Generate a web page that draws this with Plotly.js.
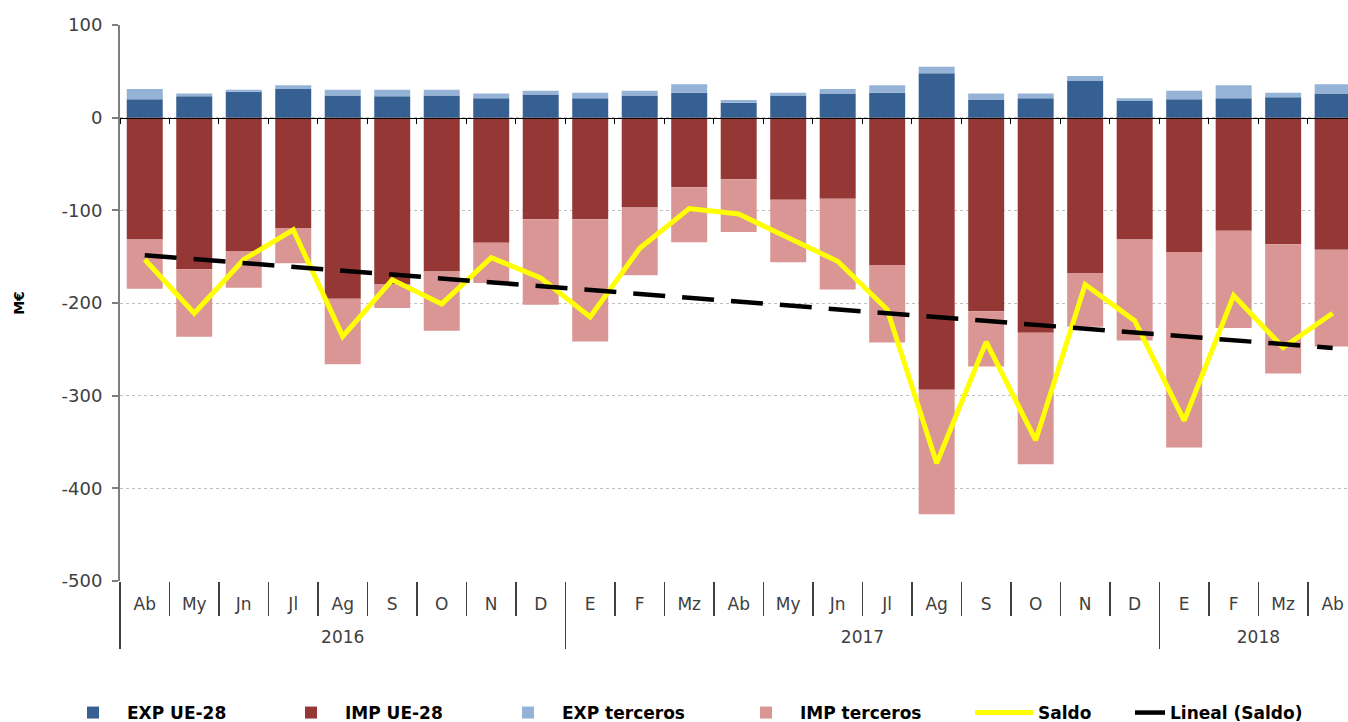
<!DOCTYPE html>
<html>
<head>
<meta charset="utf-8">
<script src="https://cdn.plot.ly/plotly-3.0.1.min.js"></script>
<style>html,body{margin:0;padding:0;background:#fff;}#chart{width:1348px;height:722px;}</style>
</head>
<body>
<div id="chart"></div>
<script>
// ---- Data (M€) ----
const years = ["2016","2016","2016","2016","2016","2016","2016","2016","2016",
               "2017","2017","2017","2017","2017","2017","2017","2017","2017","2017","2017","2017",
               "2018","2018","2018","2018"];
const months = ["Ab","My","Jn","Jl","Ag","S","O","N","D",
                "E","F","Mz","Ab","My","Jn","Jl","Ag","S","O","N","D",
                "E","F","Mz","Ab"];
const expUE = [20, 23, 28, 31, 24, 23, 24, 21, 25, 21, 24, 27, 16, 24, 26, 27, 48, 19, 21, 40, 18, 20, 21, 22, 26];
const impUE = [-131.5, -163.5, -144, -119, -195.5, -180, -166, -135, -109.5, -109.5, -97, -75, -66.5, -88.5, -87.5, -159, -293.5, -209, -232, -167.5, -131.5, -145, -122, -136.5, -142.5];
const expTerceros = [11, 3, 2, 4, 6, 7, 6, 5, 4, 6, 5, 9, 3, 3, 5, 8, 7, 7, 5, 5, 3, 9, 14, 5, 10];
const impTerceros = [-53, -73, -39.5, -38, -70.5, -25.5, -64, -43.5, -92.5, -132, -73, -59.5, -57, -67.5, -98, -83.5, -134.5, -59.5, -142, -58, -109, -211, -105, -139.5, -104.5];
const saldo = [-153, -211, -153, -121, -236, -175, -201, -151, -173, -215, -141, -98, -104, -129, -155, -207, -373, -242, -348, -180, -219, -327, -192, -248, -211];
const yTickVals = [100, 0, -100, -200, -300, -400, -500];
const yTickText = ["100", "0", "-100", "-200", "-300", "-400", "-500"];

// category positions (one slot per month)
const idx = months.map((_, i) => i);

// year groups: label at the centre of each group, dividers at group boundaries
const yearLabels = [], yearCenters = [], yearBounds = [-0.5];
years.forEach((y, i) => {
  if (i === 0 || years[i - 1] !== y) { yearLabels.push(y); yearCenters.push([i]); }
  else yearCenters[yearCenters.length - 1].push(i);
  if (i === years.length - 1 || years[i + 1] !== y) yearBounds.push(i + 0.5);
});
const yearMid = yearCenters.map(g => (g[0] + g[g.length - 1]) / 2);

// Linear trend (least squares) of Saldo, like Excel's "Lineal" trendline
const n = saldo.length;
const mx = idx.reduce((a, b) => a + b, 0) / n;
const my = saldo.reduce((a, b) => a + b, 0) / n;
let sxy = 0, sxx = 0;
for (let i = 0; i < n; i++) { sxy += (idx[i] - mx) * (saldo[i] - my); sxx += (idx[i] - mx) * (idx[i] - mx); }
const slope = sxy / sxx;
const trend = idx.map(i => my + slope * (i - mx));

const FONT = "DejaVu Sans, Verdana, sans-serif";
const XRANGE = [-0.5, 24.31];

const traces = [
  {type: "bar", name: "EXP UE-28", x: idx, y: expUE, marker: {color: "#376092"}, legend: "legend"},
  {type: "bar", name: "IMP UE-28", x: idx, y: impUE, marker: {color: "#953735"}, legend: "legend2"},
  {type: "bar", name: "EXP terceros", x: idx, y: expTerceros, marker: {color: "#95B3D7"}, legend: "legend3"},
  {type: "bar", name: "IMP terceros", x: idx, y: impTerceros, marker: {color: "#D99694"}, legend: "legend4"},
  {type: "scatter", mode: "lines", name: "Saldo", x: idx, y: saldo, xaxis: "x2",
   line: {color: "#FFFF00", width: 5}, legend: "legend5"},
  {type: "scatter", mode: "lines", name: "Lineal (Saldo)", x: idx, y: trend, xaxis: "x3",
   line: {color: "#000000", width: 4.5, dash: "32px,17px"}, legend: "legend6"}
];

function leg(px, iw) {
  return {
    orientation: "h", xref: "container", yref: "container",
    x: px / 1348, xanchor: "left", y: 1 - 713 / 722, yanchor: "middle",
    itemwidth: iw, bgcolor: "rgba(0,0,0,0)", borderwidth: 0,
    font: {family: FONT, size: 17, color: "#000", weight: "bold"}
  };
}

const layout = {
  width: 1348, height: 722,
  margin: {l: 120, r: 0, t: 25, b: 141, pad: 0},
  paper_bgcolor: "#ffffff", plot_bgcolor: "#ffffff",
  barmode: "relative", bargap: 0.273,
  showlegend: true,
  font: {family: FONT, size: 17, color: "#404040"},
  xaxis: {
    range: XRANGE, showgrid: false, zeroline: false, showline: false,
    tickmode: "array", tickvals: idx, ticktext: months, ticks: "",
    ticklabelstandoff: 11,
    minor: {tickmode: "linear", tick0: -0.5, dtick: 1, ticks: "outside", ticklen: 34,
            tickwidth: 1.5, tickcolor: "#404040", showgrid: false},
    tickfont: {family: FONT, size: 17, color: "#404040"}
  },
  xaxis2: {
    overlaying: "x", anchor: "free", position: 500 / 600, side: "bottom",
    range: XRANGE, showgrid: false, zeroline: false,
    showline: true, linecolor: "#000000", linewidth: 1.5,
    ticks: "outside", ticklen: 5, tickwidth: 1, tickcolor: "#000000",
    tickmode: "linear", tick0: -0.5, dtick: 1, showticklabels: false
  },
  xaxis3: {
    overlaying: "x", anchor: "free", position: 0, side: "bottom",
    range: XRANGE, showgrid: false, zeroline: false, showline: false,
    tickmode: "array", tickvals: yearMid, ticktext: yearLabels, ticks: "",
    ticklabelstandoff: 44,
    minor: {tickmode: "array", tickvals: yearBounds, ticks: "outside", ticklen: 67,
            tickwidth: 1.5, tickcolor: "#404040", showgrid: false},
    tickfont: {family: FONT, size: 17, color: "#404040"}
  },
  yaxis: {
    range: [-500, 100], tickmode: "array", tickvals: yTickVals, ticktext: yTickText,
    showgrid: true, gridcolor: "#BFBFBF", gridwidth: 1, griddash: "3px,3px",
    zeroline: false, showline: true, linecolor: "#7F7F7F", linewidth: 2,
    ticks: "outside", ticklen: 6, tickwidth: 2, tickcolor: "#7F7F7F",
    ticklabelstandoff: 6,
    tickfont: {family: FONT, size: 18, color: "#404040"},
    title: {text: "M€", standoff: 34, font: {family: FONT, size: 14, color: "#000", weight: "bold"}}
  },
  legend: leg(59, 58),
  legend2: leg(277, 58),
  legend3: leg(494, 58),
  legend4: leg(732, 58),
  legend5: leg(970, 58),
  legend6: leg(1130, 30)
};

Plotly.newPlot("chart", traces, layout, {displayModeBar: false, staticPlot: true});
</script>
</body>
</html>
